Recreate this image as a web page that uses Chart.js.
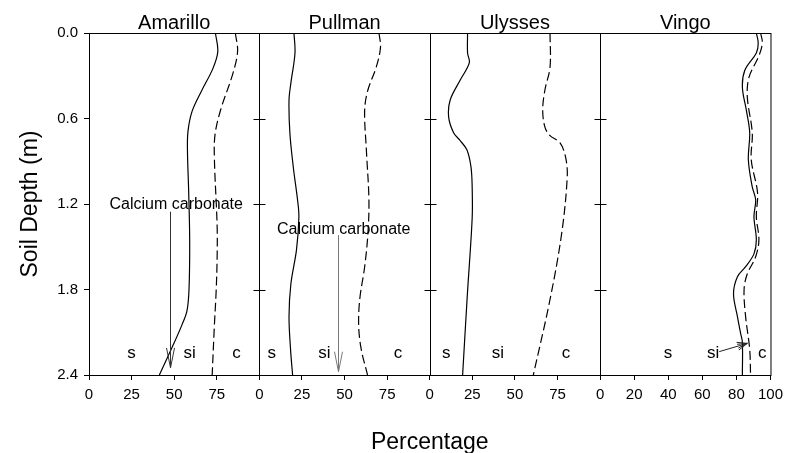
<!DOCTYPE html>
<html>
<head>
<meta charset="utf-8">
<script src="https://cdn.jsdelivr.net/npm/chart.js@4.4.0/dist/chart.umd.min.js"></script>
<style>
  html, body { margin: 0; padding: 0; background: #fff; }
  #wrap { width: 789px; height: 453px; }
</style>
</head>
<body>
<div id="wrap"><canvas id="soilChart"></canvas></div>
<script>
// sites and axis ticks
const sites = ['Amarillo', 'Pullman', 'Ulysses', 'Vingo'];
const depthTicks = [0, 0.6, 1.2, 1.8, 2.4];
const pctSteps = [25, 25, 25, 20];

// [percentage, depth m] - solid line = sand boundary, dashed = sand + silt
const amarilloSand = [[74.2,0],[75.6,0.13],[72.7,0.25],[65.9,0.41],[60.5,0.55],[58.1,0.69],[57.8,0.83],[58.5,1.11],[59.1,1.46],[58.7,1.8],[57.5,1.95],[54.5,2.05],[49.0,2.2],[41.3,2.4]];
const amarilloSilt = [[85.9,0],[87.2,0.13],[84.3,0.29],[77.5,0.53],[74.0,0.71],[73.6,0.88],[75.2,1.35],[75.2,1.58],[74.6,1.82],[73.6,2.05],[72.3,2.4]];
const pullmanSand = [[20.3,0],[20.9,0.14],[18.5,0.35],[17.4,0.47],[17.9,0.7],[19.9,0.94],[22.4,1.17],[23.2,1.29],[21.8,1.52],[18.5,1.76],[17.4,1.99],[18.3,2.22],[19.5,2.4]];
const pullmanSilt = [[70.2,0],[71.1,0.1],[68.6,0.24],[63.7,0.4],[61.8,0.54],[62.8,0.82],[64.3,1.17],[63.7,1.41],[61.8,1.64],[58.9,1.87],[58.3,2.06],[59.8,2.22],[63.5,2.4]];
const ulyssesSand = [[22.2,0],[22.2,0.14],[23.2,0.21],[17.9,0.33],[12.0,0.47],[11.1,0.59],[14.0,0.7],[17.5,0.75],[21.8,0.82],[24.2,0.94],[24.9,1.08],[24.9,1.3],[22.0,1.85],[19.3,2.4]];
const ulyssesSilt = [[70.6,0],[70.6,0.24],[67.6,0.4],[66.3,0.54],[67.6,0.66],[70.6,0.72],[76.4,0.77],[79.7,0.87],[80.7,1.01],[77.4,1.41],[70.6,1.87],[60.8,2.4]];
const vingoSand = [[91.7,0],[92.8,0.07],[91.7,0.14],[85.0,0.26],[83.5,0.38],[85.8,0.54],[87.8,0.7],[87.0,0.89],[89.3,1.08],[91.3,1.17],[90.3,1.29],[91.7,1.45],[90.3,1.55],[85.4,1.64],[80.6,1.71],[78.3,1.83],[80.6,1.99],[82.5,2.11],[83.5,2.17],[83.5,2.4]];
const vingoSilt = [[94.2,0],[95.2,0.07],[93.2,0.16],[87.4,0.31],[86.4,0.45],[89.3,0.7],[88.7,0.89],[92.4,1.12],[91.7,1.29],[93.2,1.45],[91.3,1.57],[86.4,1.69],[84.5,1.8],[85.4,1.99],[87.8,2.22],[88.3,2.4]];

// texture class labels (s, si, c) : x position in % for each site
const classNames = ['s', 'si', 'c'];
const classPct = [[25, 59, 86.6], [7.2, 38.2, 81.3], [9.7, 40, 80], [39.8, 66.4, 95.2]];
const classDepth = 2.246;

// calcium carbonate arrows: [site, text %, text depth, arrow %, arrow top, arrow tip]
const carbonateNotes = [[0, 51.2, 1.207, 47.5, 1.254, 2.35], [1, 49.5, 1.382, 46.2, 1.418, 2.377]];
// vingo silt arrow [from %, from depth, to %, to depth]
const vingoArrow = [69.9, 2.236, 86.4, 2.178];

const FONT = "'Liberation Sans', Arial, sans-serif";
const sandLines = [amarilloSand, pullmanSand, ulyssesSand, vingoSand];
const siltLines = [amarilloSilt, pullmanSilt, ulyssesSilt, vingoSilt];

const toPoints = arr => arr.map(p => ({ x: p[0], y: p[1] }));

const datasets = [];
sites.forEach((site, i) => {
    datasets.push({
        label: site + ' sand',
        data: toPoints(sandLines[i]),
        xAxisID: 'x' + i,
        yAxisID: 'y',
        borderColor: '#000',
        borderWidth: 1.2,
        pointRadius: 0,
        tension: 0.35,
        fill: false
    });
    datasets.push({
        label: site + ' silt',
        data: toPoints(siltLines[i]),
        xAxisID: 'x' + i,
        yAxisID: 'y',
        borderColor: '#000',
        borderWidth: 1.2,
        borderDash: [9, 4],
        pointRadius: 0,
        tension: 0.35,
        fill: false
    });
});

const scales = {
    y: {
        type: 'linear',
        position: 'left',
        reverse: true,
        min: 0,
        max: 2.4,
        afterBuildTicks: s => { s.ticks = depthTicks.map(v => ({ value: v })); },
        ticks: {
            color: '#000',
            padding: 6,
            font: { family: FONT, size: 15 },
            callback: v => Number(v).toFixed(1)
        },
        grid: { drawOnChartArea: false, color: '#000', tickLength: 5 },
        border: { display: false },
        afterFit: s => { s.width = 89; }
    }
};
sites.forEach((site, i) => {
    scales['x' + i] = {
        type: 'linear',
        position: 'bottom',
        stack: 'pct',
        stackWeight: 1,
        min: 0,
        max: 100,
        ticks: {
            stepSize: pctSteps[i],
            color: '#000',
            padding: 6,
            maxRotation: 0,
            autoSkip: false,
            font: { family: FONT, size: 15 },
            callback: v => (v === 100 && i < 3) ? '' : v
        },
        grid: { drawOnChartArea: false, color: '#000', tickLength: 5 },
        border: { display: false },
        afterFit: s => { s.height = 78; }
    };
});

function drawArrowHead(ctx, x0, y0, x1, y1, len, half) {
    const ang = Math.atan2(y1 - y0, x1 - x0);
    const spread = Math.atan2(half, len);
    const l = Math.hypot(len, half);
    ctx.beginPath();
    ctx.moveTo(x1 - l * Math.cos(ang - spread), y1 - l * Math.sin(ang - spread));
    ctx.lineTo(x1, y1);
    ctx.lineTo(x1 - l * Math.cos(ang + spread), y1 - l * Math.sin(ang + spread));
    ctx.stroke();
}

const decorations = {
    id: 'decorations',
    afterDatasetsDraw(chart) {
        const ctx = chart.ctx;
        const area = chart.chartArea;
        const y = chart.scales.y;
        ctx.save();
        ctx.strokeStyle = '#000';
        ctx.lineWidth = 1;

        // frame and panel dividers
        ctx.strokeRect(area.left + 0.5, area.top + 0.5, area.right - area.left, area.bottom - area.top);
        for (let i = 1; i < sites.length; i++) {
            const xs = Math.round(chart.scales['x' + i].left) + 0.5;
            ctx.beginPath();
            ctx.moveTo(xs, area.top);
            ctx.lineTo(xs, area.bottom);
            ctx.stroke();
            // depth ticks on both sides of the divider
            depthTicks.forEach(d => {
                const ty = Math.round(y.getPixelForValue(d)) + 0.5;
                ctx.beginPath();
                ctx.moveTo(xs - 6, ty);
                ctx.lineTo(xs + 6, ty);
                ctx.stroke();
            });
        }

        // panel titles
        ctx.fillStyle = '#000';
        ctx.font = '20px ' + FONT;
        ctx.textAlign = 'center';
        ctx.textBaseline = 'alphabetic';
        sites.forEach((site, i) => {
            const s = chart.scales['x' + i];
            ctx.fillText(site, (s.left + s.right) / 2, 29);
        });

        // texture class labels
        ctx.font = '17px ' + FONT;
        ctx.textBaseline = 'middle';
        classPct.forEach((row, i) => {
            const s = chart.scales['x' + i];
            row.forEach((p, k) => {
                ctx.fillText(classNames[k], s.getPixelForValue(p), y.getPixelForValue(classDepth));
            });
        });

        // calcium carbonate notes
        ctx.font = '16px ' + FONT;
        carbonateNotes.forEach((n, k) => {
            const s = chart.scales['x' + n[0]];
            ctx.fillStyle = '#000';
            ctx.fillText('Calcium carbonate', s.getPixelForValue(n[1]), y.getPixelForValue(n[2]));
            const ax = Math.round(s.getPixelForValue(n[3])) + 0.5;
            const top = y.getPixelForValue(n[4]);
            const tip = y.getPixelForValue(n[5]);
            ctx.strokeStyle = k === 0 ? '#333' : '#777';
            ctx.beginPath();
            ctx.moveTo(ax, top);
            ctx.lineTo(ax, tip);
            ctx.stroke();
            drawArrowHead(ctx, ax, top, ax, tip, 20, 4);
        });

        // vingo arrow to the silt band
        const vs = chart.scales.x3;
        const ax0 = vs.getPixelForValue(vingoArrow[0]);
        const ay0 = y.getPixelForValue(vingoArrow[1]);
        const ax1 = vs.getPixelForValue(vingoArrow[2]);
        const ay1 = y.getPixelForValue(vingoArrow[3]);
        ctx.strokeStyle = '#222';
        ctx.beginPath();
        ctx.moveTo(ax0, ay0);
        ctx.lineTo(ax1, ay1);
        ctx.stroke();
        drawArrowHead(ctx, ax0, ay0, ax1, ay1, 10, 4);
        drawArrowHead(ctx, ax0, ay0, ax1, ay1, 10, 2);

        // axis titles
        ctx.fillStyle = '#000';
        ctx.font = '23px ' + FONT;
        ctx.textAlign = 'center';
        ctx.textBaseline = 'alphabetic';
        ctx.fillText('Percentage', (area.left + area.right) / 2, 449);
        ctx.save();
        ctx.translate(37, (area.top + area.bottom) / 2);
        ctx.rotate(-Math.PI / 2);
        ctx.fillText('Soil Depth (m)', 0, 0);
        ctx.restore();

        ctx.restore();
    }
};

new Chart(document.getElementById('soilChart'), {
    type: 'line',
    data: { datasets: datasets },
    options: {
        indexAxis: 'y',
        responsive: true,
        maintainAspectRatio: false,
        animation: false,
        layout: { padding: { top: 33, right: 14, left: 0, bottom: 0 } },
        plugins: {
            legend: { display: false },
            tooltip: { enabled: false }
        },
        scales: scales
    },
    plugins: [decorations]
});
</script>
</body>
</html>
